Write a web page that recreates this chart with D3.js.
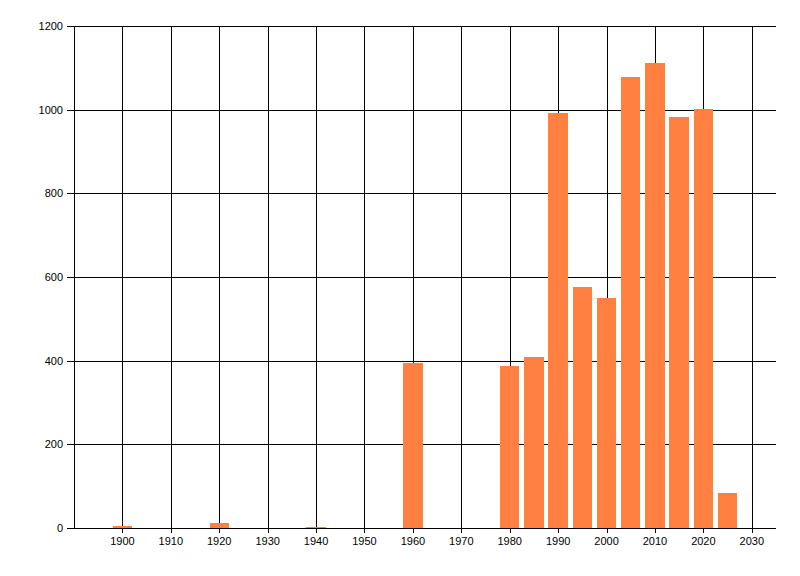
<!DOCTYPE html>
<html>
<head>
<meta charset="utf-8">
<script src="https://d3js.org/d3.v7.min.js"></script>
<style>
  body { margin: 0; background: #fff; }
  text { font-family: "Liberation Sans", Arial, sans-serif; font-size: 11px; fill: #000; }
</style>
</head>
<body>
<div id="chart"></div>
<script>
// bar data
var years  = [1900, 1920, 1940, 1960, 1980, 1985, 1990, 1995, 2000, 2005, 2010, 2015, 2020, 2025];
var counts = [5, 12, 2, 395, 387, 409, 992, 576, 550, 1078, 1112, 982, 1002, 84];
var xTicks = [1900, 1910, 1920, 1930, 1940, 1950, 1960, 1970, 1980, 1990, 2000, 2010, 2020, 2030];
var yTicks = [0, 200, 400, 600, 800, 1000, 1200];

var width = 800, height = 576;
var margin = {top: 26, right: 24, bottom: 48, left: 74};

var svg = d3.select("#chart")
  .append("svg")
    .attr("width", width)
    .attr("height", height);

var x = d3.scaleLinear().domain([1890, 2035]).range([margin.left, width - margin.right]);
var y = d3.scaleLinear().domain([0, 1200]).range([height - margin.bottom, margin.top]);
var barW = x(1894) - x(1890);

// grid lines (vertical and horizontal)
var grid = svg.append("g").attr("shape-rendering", "crispEdges");
grid.selectAll("line.v")
  .data(xTicks).enter()
  .append("line")
    .attr("x1", function(d){ return Math.round(x(d)) + 0.5; })
    .attr("x2", function(d){ return Math.round(x(d)) + 0.5; })
    .attr("y1", y(1200))
    .attr("y2", y(0) + 5)
    .attr("stroke", "#000");
grid.selectAll("line.h")
  .data(yTicks).enter()
  .append("line")
    .attr("x1", margin.left - 7)
    .attr("x2", x(2035))
    .attr("y1", function(d){ return Math.round(y(d)) + 0.5; })
    .attr("y2", function(d){ return Math.round(y(d)) + 0.5; })
    .attr("stroke", "#000");
// left axis line
grid.append("line")
  .attr("x1", margin.left + 0.5)
  .attr("x2", margin.left + 0.5)
  .attr("y1", y(1200))
  .attr("y2", y(0))
  .attr("stroke", "#000");

// bars
svg.append("g").selectAll("rect")
  .data(years).enter()
  .append("rect")
    .attr("x", function(d){ return x(d) - barW / 2; })
    .attr("y", function(d, i){ return y(counts[i]); })
    .attr("width", barW)
    .attr("height", function(d, i){ return y(0) - y(counts[i]); })
    .attr("fill", "#ff8040")
    .attr("shape-rendering", "crispEdges");

// redraw the bottom axis line over the bars
svg.append("line")
  .attr("x1", margin.left - 7)
  .attr("x2", x(2035))
  .attr("y1", Math.round(y(0)) + 0.5)
  .attr("y2", Math.round(y(0)) + 0.5)
  .attr("stroke", "#000")
  .attr("shape-rendering", "crispEdges");

// tick labels
svg.append("g").selectAll("text")
  .data(yTicks).enter()
  .append("text")
    .attr("x", margin.left - 11)
    .attr("y", function(d){ return y(d) + 4; })
    .attr("text-anchor", "end")
    .text(function(d){ return d; });

svg.append("g").selectAll("text")
  .data(xTicks).enter()
  .append("text")
    .attr("x", function(d){ return x(d); })
    .attr("y", y(0) + 17)
    .attr("text-anchor", "middle")
    .text(function(d){ return d; });
</script>
</body>
</html>
